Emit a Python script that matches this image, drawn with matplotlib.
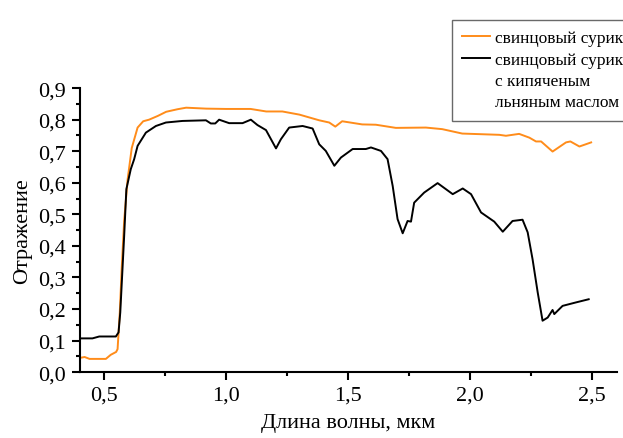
import numpy as np
import matplotlib
matplotlib.use("Agg")
import matplotlib.pyplot as plt
from matplotlib.lines import Line2D
from matplotlib.ticker import MultipleLocator

plt.rcParams['font.family'] = 'serif'
plt.rcParams['font.serif'] = ['Liberation Serif', 'Times New Roman', 'DejaVu Serif']

# свинцовый сурик
x_red = [0.406, 0.42, 0.44, 0.507, 0.527, 0.549, 0.555, 0.564, 0.572, 0.582, 0.596,
         0.613, 0.637, 0.66, 0.684, 0.72, 0.754, 0.80, 0.836, 0.918, 1.0, 1.1, 1.164,
         1.23, 1.30, 1.381, 1.422, 1.447, 1.475, 1.557, 1.613, 1.695, 1.818, 1.885,
         1.967, 2.119, 2.146, 2.20, 2.242, 2.269, 2.29, 2.337, 2.392, 2.41, 2.447, 2.495]
y_red = [0.046, 0.048, 0.042, 0.042, 0.055, 0.064, 0.073, 0.189, 0.33, 0.48, 0.61,
         0.71, 0.775, 0.795, 0.80, 0.812, 0.825, 0.833, 0.838, 0.835, 0.834, 0.834, 0.826,
         0.826, 0.816, 0.798, 0.791, 0.778, 0.795, 0.785, 0.784, 0.774, 0.775, 0.770,
         0.756, 0.752, 0.749, 0.755, 0.743, 0.731, 0.731, 0.699, 0.728, 0.731, 0.715, 0.728]

# свинцовый сурик с кипяченым льняным маслом
x_oil = [0.406, 0.452, 0.48, 0.548, 0.559, 0.566, 0.575, 0.582, 0.591, 0.609, 0.623,
         0.637, 0.671, 0.712, 0.753, 0.821, 0.917, 0.937, 0.955, 0.971, 1.012, 1.067,
         1.101, 1.128, 1.163, 1.204, 1.224, 1.258, 1.313, 1.354, 1.381, 1.408, 1.443,
         1.47, 1.518, 1.572, 1.593, 1.634, 1.661, 1.682, 1.702, 1.723, 1.743, 1.757,
         1.77, 1.811, 1.866, 1.928, 1.969, 2.003, 2.044, 2.098, 2.133, 2.173, 2.214,
         2.235, 2.255, 2.276, 2.296, 2.317, 2.337, 2.344, 2.378, 2.433, 2.485]
y_oil = [0.107, 0.107, 0.113, 0.113, 0.126, 0.189, 0.326, 0.432, 0.58, 0.643, 0.675,
         0.717, 0.759, 0.78, 0.791, 0.796, 0.798, 0.788, 0.788, 0.80, 0.789, 0.789,
         0.80, 0.783, 0.767, 0.709, 0.738, 0.775, 0.78, 0.772, 0.722, 0.701, 0.654,
         0.68, 0.707, 0.707, 0.712, 0.701, 0.675, 0.59, 0.485, 0.44, 0.479, 0.477,
         0.537, 0.569, 0.599, 0.564, 0.582, 0.564, 0.506, 0.477, 0.445, 0.479, 0.483,
         0.443, 0.358, 0.253, 0.163, 0.173, 0.197, 0.184, 0.21, 0.221, 0.231]

x_ticks = [0.5, 1.0, 1.5, 2.0, 2.5]
x_labels = ['0,5', '1,0', '1,5', '2,0', '2,5']
y_ticks = [0.0, 0.1, 0.2, 0.3, 0.4, 0.5, 0.6, 0.7, 0.8, 0.9]
y_labels = ['0,0', '0,1', '0,2', '0,3', '0,4', '0,5', '0,6', '0,7', '0,8', '0,9']

fig = plt.figure(figsize=(6.23, 4.39), dpi=100)
ax = fig.add_axes([0.128, 0.150, 0.862, 0.647])

l1, = ax.plot(x_red, y_red, color='#ff8c1a', lw=1.4)
l2, = ax.plot(x_oil, y_oil, color='black', lw=1.4)

ax.set_xlim(0.4, 2.6)
ax.set_ylim(0, 0.9)
ax.set_xticks(x_ticks)
ax.set_xticklabels(x_labels)
ax.set_yticks(y_ticks)
ax.set_yticklabels(y_labels)
ax.xaxis.set_minor_locator(MultipleLocator(0.25))
ax.yaxis.set_minor_locator(MultipleLocator(0.05))
ax.tick_params(which='major', direction='out', length=6, width=1.5, labelsize=16, pad=4)
ax.tick_params(which='minor', direction='out', length=3, width=1.5)

for s in ['top', 'right']:
    ax.spines[s].set_visible(False)
for s in ['left', 'bottom']:
    ax.spines[s].set_linewidth(1.5)

ax.set_xlabel('Длина волны, мкм', fontsize=16, labelpad=6)
ax.set_ylabel('Отражение', fontsize=16, labelpad=4)

blank = Line2D([], [], color='none')
leg = fig.legend([l1, l2, blank, blank],
                 ['свинцовый сурик', 'свинцовый сурик', 'с кипяченым', 'льняным маслом'],
                 loc='upper left', bbox_to_anchor=(443 / 623, 1 - 12 / 439),
                 fontsize=12.5, frameon=True, fancybox=False, handlelength=1.6,
                 handletextpad=0.3, borderpad=0.6, labelspacing=0.3)
leg.get_frame().set_edgecolor('#444444')
leg.get_frame().set_linewidth(1.0)

fig.savefig('out.png', dpi=100)
